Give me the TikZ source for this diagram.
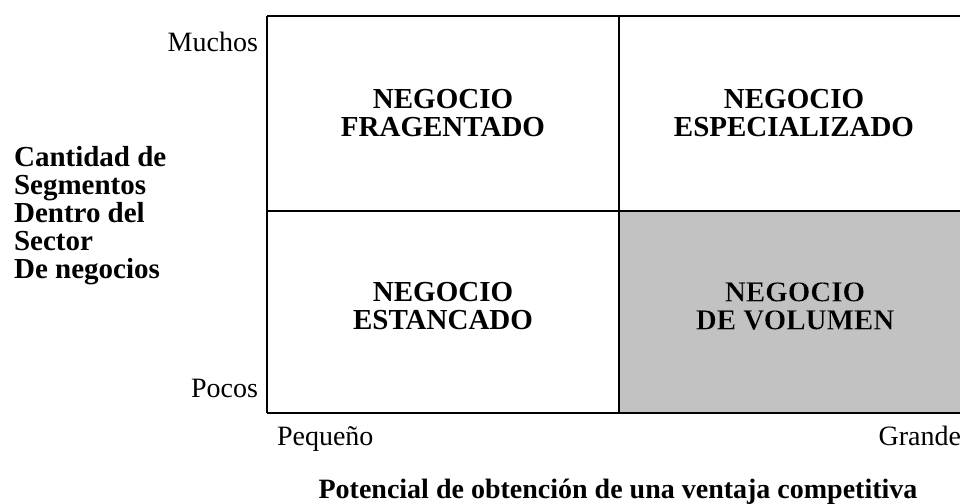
\documentclass[tikz,border=0pt]{standalone}
\usepackage{fontspec}
\setmainfont{Liberation Serif}
\usetikzlibrary{positioning}

% outlined text (black fill, white stroke)
\newcommand{\haloon}{\special{pdf:literal direct 2 Tr 0.05 w 1 G}}
\newcommand{\halooff}{\special{pdf:literal direct 0 Tr 0 G}}

\tikzset{
    cell/.style={align=center, font=\fontsize{14.5}{14}\selectfont\bfseries},
    axis/.style={font=\fontsize{14}{14}\selectfont},
    grid/.style={line width=1pt}
}

\begin{document}
\begin{tikzpicture}[x=0.5pt, y=-0.5pt]
    \useasboundingbox (0,0) rectangle (960,504);
    %% shaded cell
    \fill[gray!48] (619,211) rectangle (960,413);
    %% grid lines
    \coordinate (tl) at (267,16);
    \coordinate (bl) at (267,413);
    \coordinate (tr) at (960,16);
    \coordinate (br) at (960,413);
    \coordinate (ml) at (267,211);
    \coordinate (mr) at (960,211);
    \coordinate (mt) at (619,16);
    \coordinate (mb) at (619,413);
    \draw[grid] (tl) -- (tr);
    \draw[grid] (ml) -- (mr);
    \draw[grid] (bl) -- (br);
    \draw[grid] (tl) -- (bl);
    \draw[grid] (mt) -- (mb);
    %% cell labels
    \node[cell] (frag) at (443,113) {NEGOCIO\\FRAGENTADO};
    \node[cell] (espec) at (794,113) {NEGOCIO\\ESPECIALIZADO};
    \node[cell] (estanc) at (443,306) {NEGOCIO\\ESTANCADO};
    \node[cell] (volum) at (795,306) {\haloon NEGOCIO\\DE VOLUMEN\halooff};
    %% axis labels
    \node[axis, anchor=base east] (muchos) at (265,51) {Muchos};
    \node[axis, anchor=base east] (pocos) at (265,397) {Pocos};
    \node[axis, anchor=base west] (peq) at (270,445) {Pequeño};
    \node[axis, anchor=base east] (grande) at (968,445) {Grande};
    \node[cell, align=left, anchor=north west] (cant) at (7,139)
        {Cantidad de\\Segmentos\\Dentro del\\Sector\\De negocios};
    \node[cell, anchor=base, font=\fontsize{14}{14}\selectfont\bfseries] (pot) at (618,498)
        {Potencial de obtención de una ventaja competitiva};
\end{tikzpicture}
\end{document}
